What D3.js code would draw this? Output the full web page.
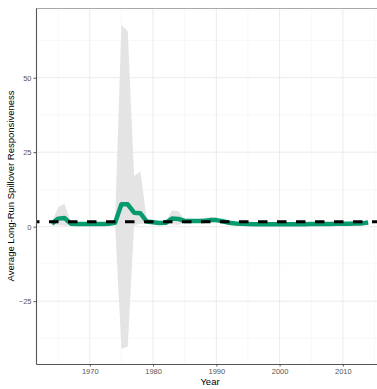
<!DOCTYPE html>
<html>
<head>
<meta charset="utf-8">
<script src="https://cdn.jsdelivr.net/npm/d3@7"></script>
<style>
  body { margin: 0; background: #fff; }
  text { font-family: "Liberation Sans", Arial, sans-serif; }
</style>
</head>
<body>
<svg id="chart" width="377" height="389"></svg>
<script>
// yearly estimates with the confidence band
const years = [1964,1965,1966,1967,1968,1969,1970,1971,1972,1973,1974,1975,1976,1977,1978,1979,
  1980,1981,1982,1983,1984,1985,1986,1987,1988,1989,1990,1991,1992,1993,1994,1995,1996,1997,1998,1999,
  2000,2001,2002,2003,2004,2005,2006,2007,2008,2009,2010,2011,2012,2013,2014];
const estimate = [1.0,2.7,2.9,1.0,0.9,0.9,0.9,0.9,0.9,1.0,1.3,7.5,7.5,4.7,4.5,1.7,
  1.5,1.2,1.3,2.7,2.6,1.9,1.9,1.9,1.9,2.2,2.2,1.8,1.3,1.1,1.0,0.9,0.8,0.8,0.8,0.8,
  0.8,0.8,0.8,0.8,0.8,0.9,0.9,0.9,0.9,1.0,1.0,1.0,1.1,1.1,1.4];
const upper = [1.5,6.5,7.8,1.5,1.3,1.3,1.3,1.3,1.3,1.4,1.8,67.7,65.6,17.0,18.5,2.5,
  2.0,1.7,1.8,5.5,5.2,2.5,2.4,2.5,3.0,3.2,3.0,2.3,1.7,1.5,1.4,1.3,1.2,1.2,1.2,1.2,
  1.2,1.2,1.2,1.2,1.2,1.3,1.3,1.3,1.3,1.4,1.4,1.4,1.5,1.5,1.8];
const lower = [0.5,0.5,0.2,0.5,0.5,0.5,0.5,0.5,0.5,0.6,0.8,-41.0,-40.2,0.5,1.0,1.0,
  1.0,0.8,0.9,0.8,0.6,1.4,1.4,1.4,1.3,1.4,1.4,1.3,0.9,0.7,0.6,0.5,0.4,0.4,0.4,0.4,
  0.4,0.4,0.4,0.4,0.4,0.5,0.5,0.5,0.5,0.6,0.6,0.6,0.7,0.7,1.0];
const reference = 1.65;
const xTicks = [1970, 1980, 1990, 2000, 2010];
const xMinor = [1965, 1975, 1985, 1995, 2005, 2015];
const yTicks = [-25, 0, 25, 50];
const yMinor = [-37.5, -12.5, 12.5, 37.5, 62.5];

const data = years.map((yr, i) => ({year: yr, est: estimate[i], hi: upper[i], lo: lower[i]}));

const svg = d3.select("#chart");
const panel = {left: 36, right: 384, top: 8, bottom: 364};

const x = d3.scaleLinear().domain([1961.5, 2016.5]).range([panel.left, panel.right]);
const y = d3.scaleLinear().domain([-46.1, 73.4]).range([panel.bottom, panel.top]);

svg.append("clipPath").attr("id", "clip")
  .append("rect")
  .attr("x", panel.left).attr("y", panel.top)
  .attr("width", panel.right - panel.left).attr("height", panel.bottom - panel.top);

// grid
const grid = svg.append("g");
grid.selectAll(".xminor").data(xMinor).enter().append("line")
  .attr("x1", d => x(d)).attr("x2", d => x(d))
  .attr("y1", panel.top).attr("y2", panel.bottom)
  .attr("stroke", "#f4f4f4").attr("stroke-width", 0.6);
grid.selectAll(".yminor").data(yMinor).enter().append("line")
  .attr("x1", panel.left).attr("x2", panel.right)
  .attr("y1", d => y(d)).attr("y2", d => y(d))
  .attr("stroke", "#f4f4f4").attr("stroke-width", 0.6);
grid.selectAll(".xmajor").data(xTicks).enter().append("line")
  .attr("x1", d => x(d)).attr("x2", d => x(d))
  .attr("y1", panel.top).attr("y2", panel.bottom)
  .attr("stroke", "#ebebeb").attr("stroke-width", 1);
grid.selectAll(".ymajor").data(yTicks).enter().append("line")
  .attr("x1", panel.left).attr("x2", panel.right)
  .attr("y1", d => y(d)).attr("y2", d => y(d))
  .attr("stroke", "#ebebeb").attr("stroke-width", 1);

const plot = svg.append("g").attr("clip-path", "url(#clip)");

// confidence band
const band = d3.area()
  .x(d => x(d.year))
  .y0(d => y(d.lo))
  .y1(d => y(d.hi));
plot.append("path")
  .datum(data)
  .attr("fill", "#e4e4e4")
  .attr("d", band);

// estimate line
const estLine = d3.line()
  .x(d => x(d.year))
  .y(d => y(d.est));
plot.append("path")
  .datum(data)
  .attr("fill", "none")
  .attr("stroke", "#079a6e")
  .attr("stroke-width", 4.5)
  .attr("stroke-linejoin", "round")
  .attr("d", estLine);

// reference line
plot.append("line")
  .attr("x1", panel.left).attr("x2", panel.right)
  .attr("y1", y(reference)).attr("y2", y(reference))
  .attr("stroke", "#000")
  .attr("stroke-width", 2.8)
  .attr("stroke-dasharray", "9.5,9.5")
  .attr("stroke-dashoffset", 6);

// panel border
svg.append("line")
  .attr("x1", panel.left).attr("x2", panel.right)
  .attr("y1", panel.top + 0.5).attr("y2", panel.top + 0.5)
  .attr("stroke", "#aaa").attr("stroke-width", 1);

// axes
const xAxis = svg.append("g")
  .attr("transform", `translate(0,${panel.bottom})`)
  .call(d3.axisBottom(x).tickValues(xTicks).tickFormat(d3.format("d"))
    .tickSize(2.5).tickSizeOuter(0).tickPadding(2));
const yAxis = svg.append("g")
  .attr("transform", `translate(${panel.left},0)`)
  .call(d3.axisLeft(y).tickValues(yTicks).tickSize(2.5).tickSizeOuter(0).tickPadding(2));

[xAxis, yAxis].forEach(a => {
  a.select(".domain").attr("stroke", "#555").attr("stroke-width", 1.1);
  a.selectAll(".tick line").attr("stroke", "#555");
  a.selectAll(".tick text").attr("fill", "#555").style("font-size", "7.5px")
    .style("font-family", "Liberation Sans, Arial, sans-serif");
});

// axis titles
svg.append("text")
  .attr("x", (panel.left + panel.right) / 2)
  .attr("y", 385)
  .attr("text-anchor", "middle")
  .style("font-size", "9.5px")
  .text("Year");
svg.append("text")
  .attr("transform", `translate(14,${(panel.top + panel.bottom) / 2}) rotate(-90)`)
  .attr("text-anchor", "middle")
  .style("font-size", "9.5px")
  .text("Average Long-Run Spillover Responsiveness");
</script>
</body>
</html>
